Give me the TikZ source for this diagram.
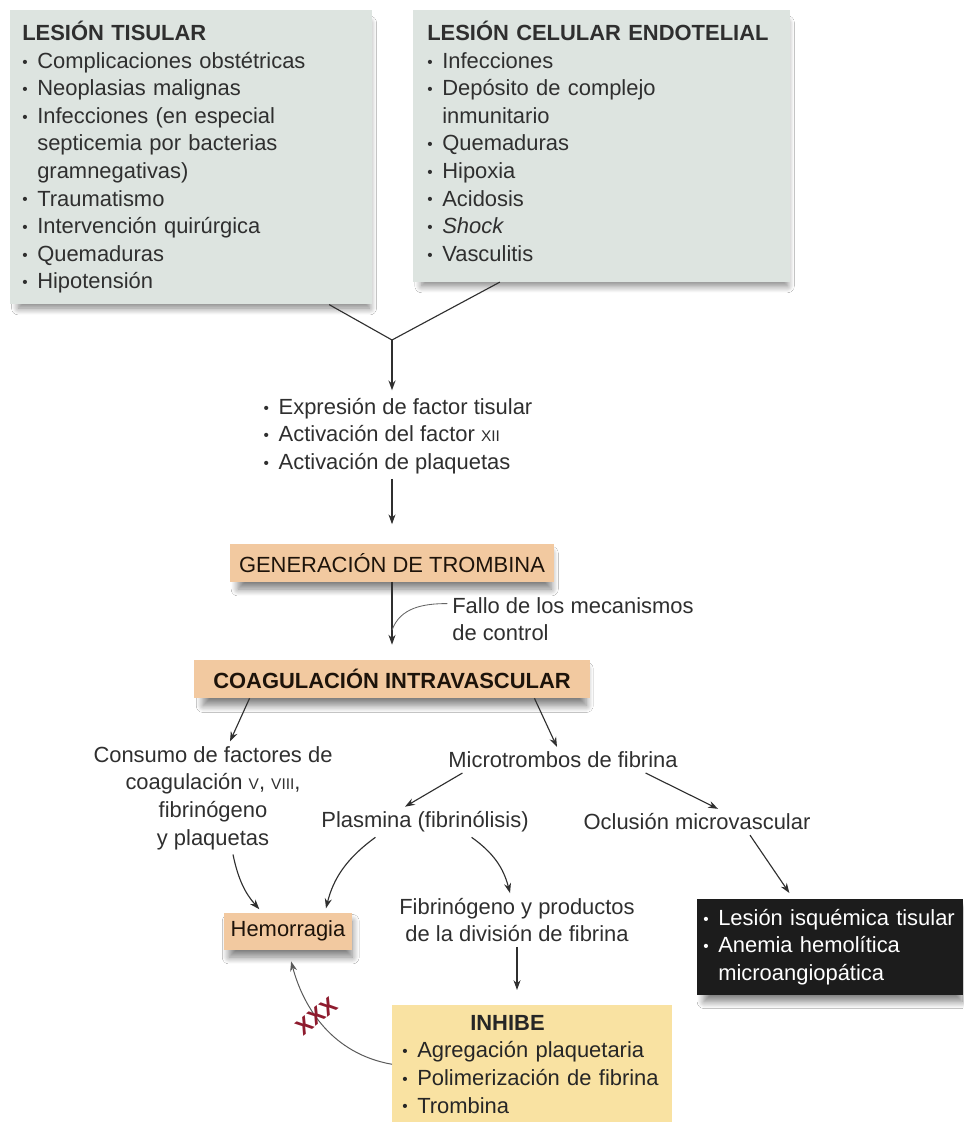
\documentclass[tikz,border=0pt]{standalone}
\usepackage{fontspec}
\setmainfont{Liberation Sans}
\usepackage{xcolor}
\usepackage{tikz}
\usetikzlibrary{positioning,arrows.meta,calc,shadows.blur}
\definecolor{causegray}{HTML}{DDE4E0}
\definecolor{peach}{HTML}{F2C9A0}
\definecolor{inhibeyellow}{HTML}{F9E2A2}
\definecolor{nightfill}{HTML}{1C1C1C}
\definecolor{ink}{HTML}{2F2F2F}
\definecolor{xxxred}{HTML}{8E1B2E}
\newcommand{\bul}{\makebox[0.375cm][l]{\raisebox{0.1ex}{\scalebox{0.7}{\textbullet}}}}
\newcommand{\indt}{\hspace*{0.375cm}}
\newcommand{\rmnum}[1]{{\fontsize{11pt}{12pt}\selectfont #1}}
\tikzset{
  txt/.style={font=\fontsize{15.6}{19.6}\selectfont,text=ink},
  softshadow/.style={blur shadow={shadow xshift=2pt,shadow yshift=-6pt,shadow scale=0.97,shadow blur steps=12,shadow blur radius=5pt,shadow opacity=50}},
  causebox/.style={txt,fill=causegray,align=left,anchor=north west,inner xsep=0.3cm,inner ysep=0.275cm,softshadow},
  peachbox/.style={txt,fill=peach,text=black!85!brown,align=center,inner sep=0pt,softshadow},
  nightbox/.style={txt,fill=nightfill,text=white,align=left,inner xsep=0.15cm,inner ysep=0.25cm,softshadow},
  inhibebox/.style={txt,fill=inhibeyellow,text=black!85,align=left,inner xsep=0.25cm,inner ysep=0.25cm},
  plain/.style={txt},
  arr/.style={-{Stealth[length=7pt,width=5pt]},line width=0.8pt,draw=ink},
  mainarr/.style={arr,line width=1.1pt},
  link/.style={line width=0.8pt,draw=ink},
  thinlink/.style={line width=0.6pt,draw=black!60},
  cutmark/.style={font=\fontsize{16}{16}\selectfont\bfseries,text=xxxred,rotate=38,inner sep=0pt}
}

\begin{document}
\begin{tikzpicture}[x=0.025cm,y=-0.025cm]
\path[use as bounding box,fill=white] (0,0) rectangle (963,1122);

\node[causebox,text width=8.45cm] (tisular) at (10,10) {\textbf{LESIÓN TISULAR}\\
\bul Complicaciones obstétricas\\
\bul Neoplasias malignas\\
\bul Infecciones (en especial\\
\indt septicemia por bacterias\\
\indt gramnegativas)\\
\bul Traumatismo\\
\bul Intervención quirúrgica\\
\bul Quemaduras\\
\bul Hipotensión};
\node[causebox,text width=8.725cm,inner xsep=0.35cm] (endotelial) at (413,10) {\textbf{LESIÓN CELULAR ENDOTELIAL}\\
\bul Infecciones\\
\bul Depósito de complejo\\
\indt inmunitario\\
\bul Quemaduras\\
\bul Hipoxia\\
\bul Acidosis\\
\bul \textit{Shock}\\
\bul Vasculitis\rule[-0.24cm]{0pt}{0pt}};

\coordinate (join) at (392,340);
\node[plain,align=left] (factores) at (398,436) {\bul Expresión de factor tisular\\
\bul Activación del factor \rmnum{XII}\\
\bul Activación de plaquetas};

\node[peachbox,minimum width=8.075cm,minimum height=0.925cm] (trombina) at (392,563) {GENERACIÓN DE TROMBINA};
\node[plain,align=left] (fallo) at (573,619) {Fallo de los mecanismos\\de control};
\node[peachbox,minimum width=9.875cm,minimum height=0.95cm] (coag) at (392,679) {\textbf{COAGULACIÓN INTRAVASCULAR}};

\node[plain,align=center] (consumo) at (213,798) {Consumo de factores de\\coagulación \rmnum{V}, \rmnum{VIII},\\fibrinógeno\\y plaquetas};
\node[plain] (micro) at (563,760) {Microtrombos de fibrina};
\node[plain] (plasmina) at (425,822) {Plasmina (fibrinólisis)};
\node[plain] (oclusion) at (697,822) {Oclusión microvascular};

\node[peachbox,minimum width=3.175cm,minimum height=0.925cm] (hemo) at (288,931) {Hemorragia};
\node[plain,align=center] (productos) at (517,920) {Fibrinógeno y productos\\de la división de fibrina};
\node[nightbox,text width=6.35cm,anchor=west] (lesion) at (697,947) {\bul Lesión isquémica tisular\\
\bul Anemia hemolítica\\
\indt microangiopática};
\node[inhibebox,text width=6.5cm,anchor=north west] (inhibe) at (392,1005) {\hspace*{1.7cm}\textbf{INHIBE}\\
\bul Agregación plaquetaria\\
\bul Polimerización de fibrina\\
\bul Trombina};

\draw[link] ($(tisular.south west)!0.88!(tisular.south east)$) -- (join);
\draw[link] ($(endotelial.south west)!0.23!(endotelial.south east)$) -- (join);
\draw[mainarr,shorten >=2pt] (join) -- (join |- factores.north);
\draw[arr,shorten >=0.5cm] (factores.south -| join) -- (trombina.north);
\draw[mainarr,shorten >=0.375cm] (trombina.south) -- (coag.north);
\coordinate (failpt) at ($(trombina.south)!0.62!(coag.north)$);
\draw[thinlink] (fallo.173) to[out=180,in=70] (failpt);

\draw[arr] ($(coag.south west)!0.14!(coag.south east)$) -- ($(consumo.north)+(17,0)$);
\draw[arr] ($(coag.south west)!0.86!(coag.south east)$) -- ($(micro.north)+(-6,0)$);
\draw[arr] ($(micro.south west)+(19,0)$) -- ($(plasmina.north)+(-20,0)$);
\draw[arr] ($(micro.south east)+(-37,0)$) -- ($(oclusion.north)+(21,0)$);
\draw[arr,shorten >=0.1cm] ($(consumo.south)+(20,0)$) to[bend right=15] ($(hemo.north)+(-26,0)$);
\draw[arr,shorten >=0.1cm] ($(plasmina.south west)+(59,0)$) to[bend right=20] ($(hemo.north)+(37,0)$);
\draw[arr] ($(plasmina.south east)+(-62,0)$) to[bend left=20] ($(productos.north)+(-7,0)$);
\draw[arr,shorten >=0.175cm] ($(oclusion.south)+(53,0)$) -- ($(lesion.north)+(-37,0)$);
\draw[arr,shorten >=0.375cm] (productos.south) -- (productos.south |- inhibe.north);
\draw[arr,draw=black!65,line width=0.7pt,shorten >=0.3cm] (inhibe.west) to[out=170,in=-75] node[cutmark,pos=0.57] (cut) {XXX} (hemo.south);
\end{tikzpicture}
\end{document}
